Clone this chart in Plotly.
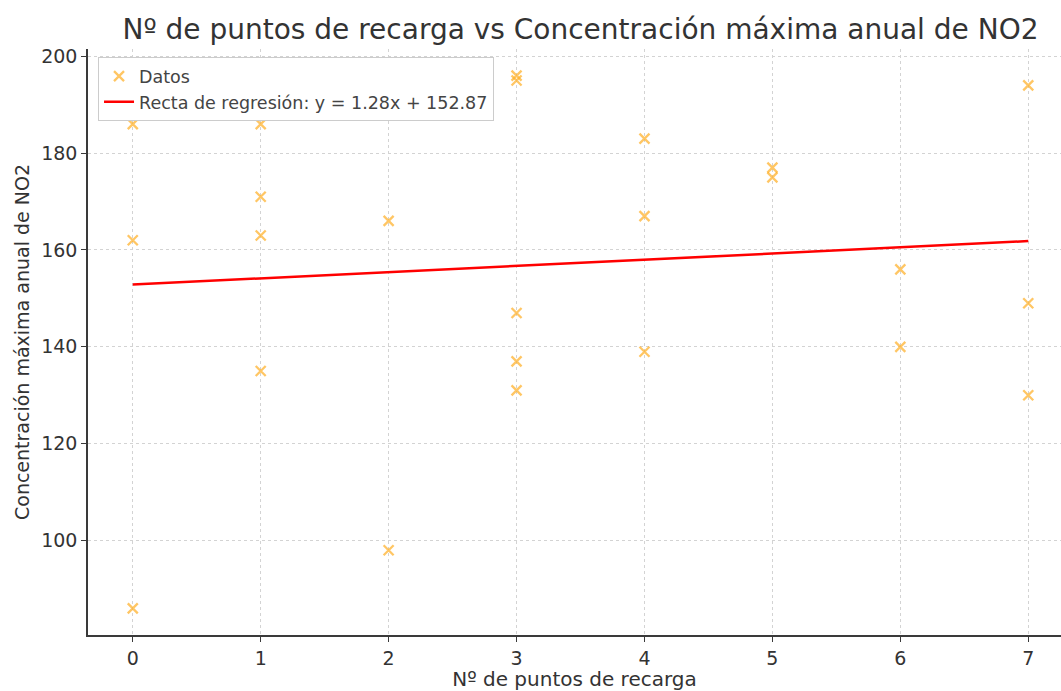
import plotly.graph_objects as go

# Data
puntos = [0, 0, 0,
          1, 1, 1, 1,
          2, 2,
          3, 3, 3, 3, 3,
          4, 4, 4,
          5, 5,
          6, 6,
          7, 7, 7]
no2 = [186, 162, 86,
       186, 171, 163, 135,
       166, 98,
       196, 195, 147, 137, 131,
       183, 167, 139,
       177, 175,
       156, 140,
       194, 149, 130]
slope = 1.28
intercept = 152.87
x_ticks = [0, 1, 2, 3, 4, 5, 6, 7]
y_ticks = [100, 120, 140, 160, 180, 200]

FONT = "DejaVu Sans"
TXT = "#333333"

x_line = [min(puntos), max(puntos)]
y_line = [slope * v + intercept for v in x_line]

fig = go.Figure()
fig.add_trace(go.Scatter(
    x=puntos, y=no2, mode="markers", name="Datos",
    marker=dict(symbol="x-thin", size=10, color="rgba(255,176,40,0.72)",
                line=dict(width=2.3, color="rgba(255,176,40,0.72)")),
))
fig.add_trace(go.Scatter(
    x=x_line, y=y_line, mode="lines",
    name=f"Recta de regresión: y = {slope:.2f}x + {intercept:.2f}",
    line=dict(color="red", width=2.5),
))

fig.update_layout(
    width=1061, height=691,
    margin=dict(l=88, r=0, t=49, b=56),
    paper_bgcolor="white", plot_bgcolor="white",
    font=dict(family=FONT, color=TXT, size=19),
    title=dict(text="Nº de puntos de recarga vs Concentración máxima anual de NO2",
               x=(88 + 1073) / 2 / 1061, xanchor="center", y=1 - 29 / 691, yanchor="middle",
               font=dict(size=28, color=TXT, family=FONT)),
    showlegend=True,
    legend=dict(x=0.0103, y=0.986, xanchor="left", yanchor="top",
                bgcolor="white", bordercolor="#cccccc", borderwidth=1,
                font=dict(size=17.5, color="#444444", family=FONT),
                tracegroupgap=0),
)
fig.update_xaxes(
    range=[-0.35, 7.256], tickmode="array", tickvals=x_ticks,
    showgrid=True, gridcolor="#d3d3d3", griddash="3px,3px", gridwidth=1,
    showline=True, linecolor="#3a3a3a", linewidth=1.6, mirror=False,
    ticks="outside", ticklen=5, tickcolor="#3a3a3a", tickwidth=1.3,
    zeroline=False,
    title=dict(text="Nº de puntos de recarga", font=dict(size=20, color=TXT), standoff=5),
    tickfont=dict(size=19, color=TXT),
)
fig.update_yaxes(
    range=[80.5, 201.5], tickmode="array", tickvals=y_ticks,
    showgrid=True, gridcolor="#d3d3d3", griddash="3px,3px", gridwidth=1,
    showline=True, linecolor="#3a3a3a", linewidth=1.6, mirror=False,
    ticks="outside", ticklen=5, tickcolor="#3a3a3a", tickwidth=1.3,
    zeroline=False,
    title=dict(text="Concentración máxima anual de NO2", font=dict(size=19, color=TXT), standoff=6),
    tickfont=dict(size=19, color=TXT),
)

fig.write_html("out.html")
